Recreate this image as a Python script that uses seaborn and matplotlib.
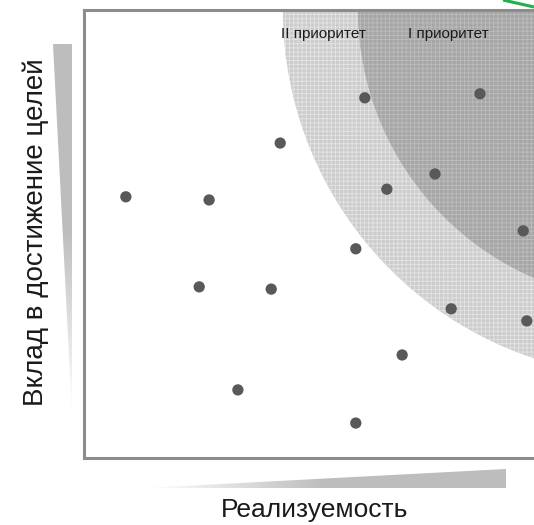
import numpy as np
import matplotlib
matplotlib.use("Agg")
import matplotlib.pyplot as plt
from matplotlib.patches import Ellipse, Polygon
from matplotlib.colors import LinearSegmentedColormap
import seaborn as sns

# projects: feasibility (x) vs contribution to goals (y), 0..100 scale
feasibility = [9.3, 27.8, 43.6, 62.4, 88.0, 67.3, 78.0, 97.6,
               60.4, 25.6, 41.6, 81.6, 98.4, 70.7, 34.2, 60.4]
contribution = [58.3, 57.6, 70.3, 80.4, 81.3, 60.0, 63.4, 50.7,
                46.7, 38.2, 37.7, 33.3, 30.6, 23.0, 15.2, 7.8]

# priority zones: arcs centred beyond the top-right corner
zone_center = (125.8, 100.0)
zone_radius = {"II приоритет": 81.6, "I приоритет": 64.9}
zone_color = {"II приоритет": "#cccccc", "I приоритет": "#a6a6a6"}
zone_hatch = {"II приоритет": "#e4e4e4", "I приоритет": "#bcbcbc"}
zone_label_x = {"II приоритет": 53.3, "I приоритет": 80.9}

x_title = "Реализуемость"
y_title = "Вклад в достижение целей"

sns.set_style("white")
plt.rcParams["font.family"] = ["Liberation Sans", "DejaVu Sans"]
plt.rcParams["hatch.linewidth"] = 0.6

W, H = 534, 525
fig = plt.figure(figsize=(W / 100, H / 100), dpi=100)

# background overlay in pixel coordinates for the wedge arrows
bg = fig.add_axes([0, 0, 1, 1], zorder=0)
bg.set_xlim(0, W)
bg.set_ylim(H, 0)
bg.axis("off")

wedge_cmap = LinearSegmentedColormap.from_list("wedge", ["#ffffff", "#bdbdbd", "#bdbdbd"])

# vertical wedge (left)
left_poly = Polygon([(53, 44), (72, 44), (72, 414)], closed=True, facecolor="none", edgecolor="none")
bg.add_patch(left_poly)
grad_v = np.linspace(1, 0, 200).reshape(-1, 1)
im = bg.imshow(grad_v, cmap=wedge_cmap, vmin=0, vmax=1, extent=(53, 72, 414, 44),
               aspect="auto", interpolation="bilinear")
im.set_clip_path(left_poly)

# horizontal wedge (bottom)
bot_poly = Polygon([(145, 488), (506, 469), (506, 488)], closed=True, facecolor="none", edgecolor="none")
bg.add_patch(bot_poly)
grad_h = np.linspace(0, 1, 200).reshape(1, -1)
im2 = bg.imshow(grad_h, cmap=wedge_cmap, vmin=0, vmax=1, extent=(145, 506, 488, 469),
                aspect="auto", interpolation="bilinear")
im2.set_clip_path(bot_poly)

# green fragment at top-right corner
bg.plot([503, 534], [0, 7], color="#1fb04b", lw=2.2, solid_capstyle="butt")

# main chart
ax = fig.add_axes([84 / W, (H - 458) / H, 450 / W, 448 / H], zorder=1)
ax.set_xlim(0, 100)
ax.set_ylim(0, 100)
px_x, px_y = 4.5, 4.48

for name in ["II приоритет", "I приоритет"]:
    r = zone_radius[name]
    ax.add_patch(Ellipse(zone_center, width=2 * r, height=2 * r * px_x / px_y,
                         facecolor=zone_color[name], edgecolor=zone_hatch[name],
                         hatch="++++", linewidth=0, zorder=1))
    ax.text(zone_label_x[name], 94.7, name, ha="center", va="center",
            fontsize=11, color="#1a1a1a", zorder=3)

sns.scatterplot(x=feasibility, y=contribution, ax=ax, s=66, color="#595959",
                edgecolor="none", linewidth=0, zorder=4)

ax.set_xticks([])
ax.set_yticks([])
for side in ["left", "top", "bottom"]:
    ax.spines[side].set_color("#8c8c8c")
    ax.spines[side].set_linewidth(2.2)
ax.spines["right"].set_visible(False)

fig.text(315 / W, 1 - 510 / H, x_title, ha="center", va="center", fontsize=19, color="#1a1a1a")
fig.text(36 / W, 1 - 232 / H, y_title, ha="center", va="center", rotation=90,
         fontsize=20, color="#1a1a1a")

fig.savefig("out.png", dpi=100)
